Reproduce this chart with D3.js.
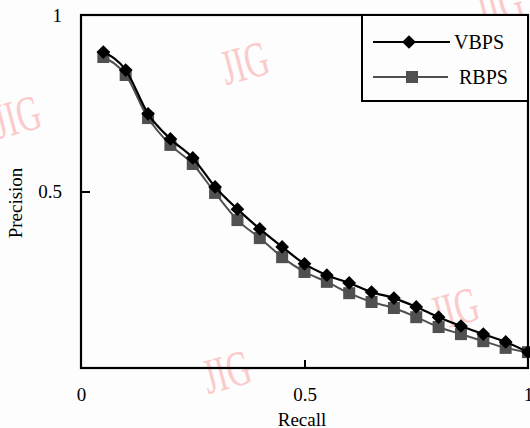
<!DOCTYPE html>
<html>
<head>
<meta charset="utf-8">
<script src="https://cdn.jsdelivr.net/npm/d3@7"></script>
<style>
html,body{margin:0;padding:0;background:#fdfdfd;}
svg{display:block;}
</style>
</head>
<body>
<svg id="chart" width="530" height="428"></svg>
<script>
const recall = [0.05,0.10,0.15,0.20,0.25,0.30,0.35,0.40,0.45,0.50,0.55,0.60,0.65,0.70,0.75,0.80,0.85,0.90,0.95,1.00];
const vbps = [0.895,0.844,0.720,0.649,0.595,0.513,0.450,0.394,0.343,0.295,0.263,0.241,0.215,0.198,0.173,0.144,0.119,0.096,0.074,0.045];
const rbps = [0.881,0.830,0.708,0.632,0.578,0.496,0.419,0.368,0.314,0.272,0.244,0.212,0.187,0.170,0.144,0.116,0.096,0.076,0.057,0.045];
const xTicks = [0, 0.5, 1];
const yTicks = [0.5, 1];
const xTickLabels = ["0", "0.5", "1"];
const yTickLabels = ["0.5", "1"];
const seriesNames = ["VBPS", "RBPS"];
const xTitle = "Recall";
const yTitle = "Precision";
const watermark = "JIG";

const svg = d3.select("#chart");
const L = 81, R = 528, T = 15, B = 368;
const x = d3.scaleLinear().domain([0,1]).range([L,R]);
const y = d3.scaleLinear().domain([0,1]).range([B,T]);
const font = "'Liberation Serif','Times New Roman',serif";

// watermarks
const wm = [[246,68],[18,122],[228,377],[456,314],[500,10]];
wm.forEach(([wx,wy]) => {
  svg.append("text").attr("transform",`translate(${wx},${wy}) rotate(-15) scale(0.66,1)`)
    .attr("text-anchor","middle").attr("dominant-baseline","middle")
    .attr("font-family",font).attr("font-size",50).attr("fill","#fbcaca").text(watermark);
});

// frame
svg.append("rect").attr("x",L).attr("y",T).attr("width",R-L).attr("height",B-T)
  .attr("fill","none").attr("stroke","#000").attr("stroke-width",2.2);

// axes ticks (inward)
const xAxis = d3.axisBottom(x).tickValues(xTicks).tickSize(-8).tickFormat((d,i)=>xTickLabels[i]).tickPadding(20);
const gx = svg.append("g").attr("transform",`translate(0,${B})`).call(xAxis);
gx.select(".domain").remove();
gx.selectAll(".tick line").attr("stroke","#000").attr("stroke-width",2).filter(d=>d!==0.5).remove();
gx.selectAll(".tick text").attr("font-family",font).attr("font-size",19).attr("fill","#000");

const yAxis = d3.axisLeft(y).tickValues(yTicks).tickSize(-9).tickFormat((d,i)=>yTickLabels[i]).tickPadding(19);
const gy = svg.append("g").attr("transform",`translate(${L},0)`).call(yAxis);
gy.select(".domain").remove();
gy.selectAll(".tick line").attr("stroke","#000").attr("stroke-width",2).filter(d=>d!==0.5).remove();
gy.selectAll(".tick text").attr("font-family",font).attr("font-size",19).attr("fill","#000");

// titles
svg.append("text").attr("x",302).attr("y",426).attr("text-anchor","middle")
  .attr("font-family",font).attr("font-size",19).text(xTitle);
svg.append("text").attr("transform","translate(22,203) rotate(-90)").attr("text-anchor","middle")
  .attr("font-family",font).attr("font-size",19).text(yTitle);

// series
const line = d3.line().curve(d3.curveMonotoneX);
const rPts = recall.map((r,i)=>[x(r),y(rbps[i])]);
const vPts = recall.map((r,i)=>[x(r),y(vbps[i])]);
const gray = "#505050";

svg.append("path").attr("d",line(rPts)).attr("fill","none").attr("stroke",gray).attr("stroke-width",2);
svg.selectAll(".sq").data(rPts).enter().append("rect")
  .attr("x",d=>d[0]-6).attr("y",d=>d[1]-6).attr("width",12).attr("height",12).attr("fill",gray);

svg.append("path").attr("d",line(vPts)).attr("fill","none").attr("stroke","#000").attr("stroke-width",2.2);
const diamond = d3.symbol().type(d3.symbolDiamond2).size(120);
svg.selectAll(".dm").data(vPts).enter().append("path")
  .attr("transform",d=>`translate(${d[0]},${d[1]})`).attr("d",diamond()).attr("fill","#000");

// legend
svg.append("rect").attr("x",362).attr("y",T).attr("width",R-362).attr("height",101-T)
  .attr("fill","#fdfdfd").attr("stroke","#000").attr("stroke-width",2);
svg.append("line").attr("x1",373).attr("x2",450).attr("y1",42).attr("y2",42).attr("stroke","#000").attr("stroke-width",2);
svg.append("path").attr("transform","translate(409,42)").attr("d",diamond()).attr("fill","#000");
svg.append("text").attr("x",454).attr("y",49).attr("font-family",font).attr("font-size",20).text(seriesNames[0]);
svg.append("line").attr("x1",373).attr("x2",448).attr("y1",77).attr("y2",77).attr("stroke",gray).attr("stroke-width",2);
svg.append("rect").attr("x",406).attr("y",71).attr("width",12).attr("height",12).attr("fill",gray);
svg.append("text").attr("x",459).attr("y",84).attr("font-family",font).attr("font-size",20).text(seriesNames[1]);
</script>
</body>
</html>
